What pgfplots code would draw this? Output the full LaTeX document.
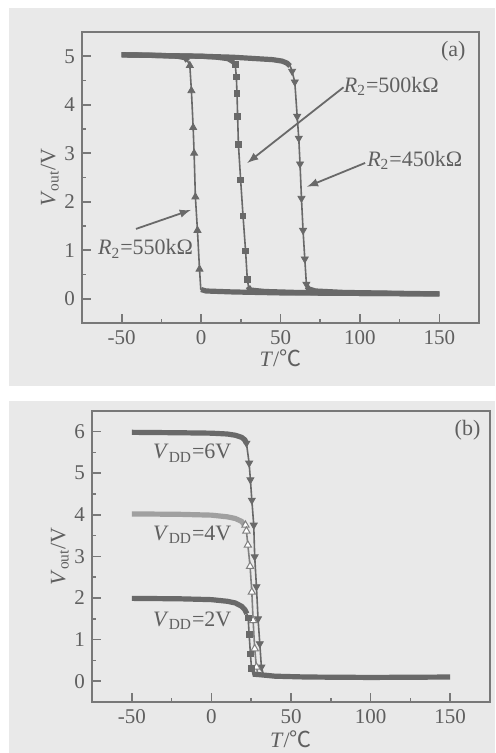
\documentclass[border=0pt]{standalone}
\usepackage{fontspec}
\setmainfont{Liberation Serif}
\newfontfamily\cjk{Noto Sans CJK SC}
\usepackage{pgfplots}
\usetikzlibrary{plotmarks}
\pgfplotsset{compat=1.18}
\definecolor{bg}{RGB}{233,233,233}
\definecolor{cv}{RGB}{105,105,105}
\definecolor{cvl}{RGB}{160,160,160}
\definecolor{ax}{RGB}{120,120,120}
\definecolor{tx}{RGB}{95,95,95}
\pgfplotsset{panel/.style={
  scale only axis, width=198.5pt, height=145.5pt,
  xmin=-75,xmax=175, xtick={-50,0,50,100,150}, minor x tick num=1,
  ymin=-0.5, minor y tick num=1,
  tick pos=left, tick align=inside,
  major tick length=4.5pt, minor tick length=2.2pt,
  axis line style={draw=ax,line width=1pt},
  every tick/.append style={draw=ax,line width=0.8pt},
  tick label style={font=\fontsize{10.5}{12}\selectfont, text=tx},
  /pgf/number format/assume math mode=true,
  label style={font=\fontsize{11}{13}\selectfont, text=tx},
  xlabel={\textit{T}/{\cjk ℃}},
  ylabel={\textit{V}\textsubscript{out}/V},
  ylabel style={yshift=-4pt},
  clip=false,
},
band/.style={draw=cv, line width=2.6pt, line join=round, no marks},
tline/.style={draw=cv, line width=0.8pt, no marks},
}
\tikzset{ann/.style={font=\fontsize{11}{13}\selectfont, text=tx}}
\begin{document}
\begin{tikzpicture}
\useasboundingbox (0,0) rectangle (247.5pt,376.5pt);
\fill[white] (0,0) rectangle (247.5pt,376.5pt);
\fill[bg] (4.5pt,183.5pt) rectangle (247.5pt,372.5pt);
\fill[bg] (4.5pt,0pt) rectangle (247.5pt,176pt);
% ---------------- panel (a)
\begin{axis}[panel, at={(41pt,215pt)}, anchor=south west, ymax=5.5,
  ytick={0,1,2,3,4,5}, xlabel style={yshift=4pt}]
% plateaus
\addplot[band] coordinates {(-50,5.03)(-30,5.02)(-15,5.0)(-10,4.97)(-8.5,4.9)};
\addplot[band] coordinates {(-50,5.03)(-20,5.01)(0,5.0)(10,4.98)(17,4.95)(20.5,4.88)};
\addplot[band] coordinates {(-50,5.03)(0,5.0)(20,4.98)(35,4.95)(45,4.93)(51,4.9)(54,4.86)(56,4.8)};
% transitions
\addplot[tline] coordinates {(-9,4.93)(-7.1,4.81)(-6.1,4.29)(-5.0,3.53)(-4.4,3.0)(-3.6,2.1)(-2.3,1.41)(-1.0,0.61)(-0.2,0.2)(1.5,0.16)};
\addplot[only marks, mark=triangle*, mark size=2pt, mark options={draw=cv, fill=cv}] coordinates {(-7.1,4.81)(-6.1,4.29)(-5.0,3.53)(-4.4,3.0)(-3.6,2.1)(-2.3,1.41)(-1.0,0.61)};
\addplot[tline] coordinates {(19,4.93)(21.5,4.83)(22.2,4.57)(22.6,4.24)(23.0,3.76)(23.5,3.18)(24.9,2.45)(26.4,1.71)(28.0,0.99)(29.1,0.40)(30,0.22)(32,0.17)};
\addplot[only marks, mark=square*, mark size=1.4pt, mark options={draw=cv, fill=cv}] coordinates {(21.5,4.83)(22.2,4.57)(22.6,4.24)(23.0,3.76)(23.5,3.18)(24.9,2.45)(26.4,1.71)(28.0,0.99)(29.1,0.40)};
\addplot[tline] coordinates {(53,4.88)(56,4.81)(57.3,4.69)(59.0,4.47)(60.5,3.76)(61.5,3.31)(62.3,2.78)(63.2,2.07)(64.2,1.41)(65.3,0.82)(66.3,0.30)(67.5,0.2)(70,0.16)};
\addplot[only marks, mark=triangle*, mark size=2pt, mark options={draw=cv, fill=cv, rotate=180}] coordinates {(57.3,4.69)(59.0,4.47)(60.5,3.76)(61.5,3.31)(62.3,2.78)(63.2,2.07)(64.2,1.41)(65.3,0.82)(66.3,0.30)};
% low
\addplot[band] coordinates {(0,0.19)(3,0.16)(20,0.14)(50,0.12)(100,0.11)(150,0.1)};
\addplot[band] coordinates {(29.5,0.25)(31,0.18)(40,0.15)(60,0.13)(100,0.11)(150,0.1)};
\addplot[band] coordinates {(66.5,0.25)(68,0.2)(72,0.16)(90,0.13)(150,0.1)};
% annotations
\node[ann] at (axis cs:158.8,5.11) {(a)};
\node[ann, anchor=west, inner sep=0pt] at (axis cs:89.7,4.38) {\textit{R}\textsubscript{2}=500kΩ};
\node[ann, anchor=west, inner sep=0pt] at (axis cs:104.4,2.85) {\textit{R}\textsubscript{2}=450kΩ};
\node[ann, anchor=west, inner sep=0pt] at (axis cs:-65.1,1.03) {\textit{R}\textsubscript{2}=550kΩ};
\draw[cv, line width=0.9pt, -latex] (axis cs:89.7,4.36) -- (axis cs:29.1,2.80);
\draw[cv, line width=0.9pt, -latex] (axis cs:103.3,2.80) -- (axis cs:66.7,2.31);
\draw[cv, line width=0.9pt, -latex] (axis cs:-41.0,1.44) -- (axis cs:-6.5,1.83);
\end{axis}
% ---------------- panel (b)
\begin{axis}[panel, at={(46pt,25.5pt)}, anchor=south west, width=199pt, height=145.65pt,
  ymax=6.5, ytick={0,1,2,3,4,5,6}, xlabel style={yshift=3pt}]
\addplot[band] coordinates {(-50,5.98)(-20,5.97)(0,5.96)(10,5.94)(15,5.91)(19,5.86)(21,5.8)(22,5.72)};
\addplot[band, draw=cvl] coordinates {(-50,4.02)(-20,4.01)(0,3.99)(10,3.95)(15,3.91)(19,3.84)(21,3.74)};
\addplot[band] coordinates {(-50,1.99)(-20,1.98)(0,1.96)(10,1.92)(15,1.88)(19,1.8)(21,1.72)(22.3,1.62)};
% transitions
\addplot[tline] coordinates {(21,5.82)(22.0,5.72)(23.7,5.24)(24.5,4.84)(25.4,4.35)(26.6,3.75)(27.2,2.99)(28.3,2.27)(29.3,1.50)(30.4,0.90)(31.4,0.34)(32.5,0.18)(34,0.15)};
\addplot[only marks, mark=triangle*, mark size=2pt, mark options={draw=cv, fill=cv, rotate=180}] coordinates {(22.0,5.72)(23.7,5.24)(24.5,4.84)(25.4,4.35)(26.6,3.75)(27.2,2.99)(28.3,2.27)(29.3,1.50)(30.4,0.90)(31.4,0.34)};
\addplot[tline, draw=cv!85] coordinates {(20,3.8)(21.4,3.75)(22.0,3.61)(22.9,3.27)(24.3,2.76)(25.4,2.14)(26.2,1.46)(27.2,0.78)(28.3,0.34)(29.1,0.18)(31,0.15)};
\addplot[only marks, mark=triangle*, mark size=2.1pt, mark options={draw=cv!85, fill=white, line width=0.5pt}] coordinates {(21.4,3.75)(22.0,3.61)(22.9,3.27)(24.3,2.76)(25.4,2.14)(26.2,1.46)(27.2,0.78)(28.3,0.34)};
\addplot[tline] coordinates {(22.3,1.62)(23.1,1.52)(23.7,1.13)(24.5,0.66)(25.2,0.31)(26.2,0.16)(28,0.14)};
\addplot[only marks, mark=square*, mark size=1.4pt, mark options={draw=cv, fill=cv}] coordinates {(23.1,1.52)(23.7,1.13)(24.5,0.66)(25.2,0.31)};
% low
\addplot[band] coordinates {(26,0.17)(32,0.15)(40,0.12)(60,0.1)(100,0.09)(150,0.1)};
% annotations
\node[ann] at (axis cs:160.9,6.04) {(b)};
\node[ann, anchor=west, inner sep=0pt] at (axis cs:-36.8,5.48) {\textit{V}\textsubscript{DD}=6V};
\node[ann, anchor=west, inner sep=0pt] at (axis cs:-36.8,3.51) {\textit{V}\textsubscript{DD}=4V};
\node[ann, anchor=west, inner sep=0pt] at (axis cs:-36.8,1.46) {\textit{V}\textsubscript{DD}=2V};
\end{axis}
\end{tikzpicture}
\end{document}
